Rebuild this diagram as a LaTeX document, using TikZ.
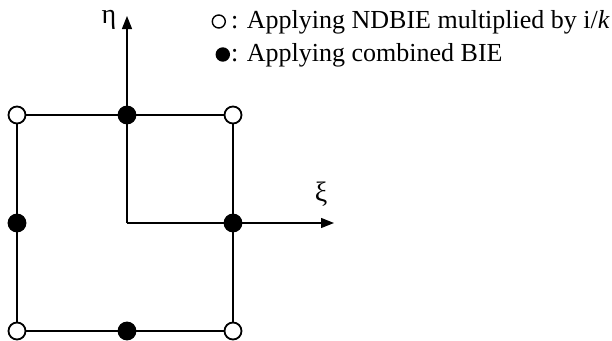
\documentclass[tikz,border=0pt]{standalone}
\usepackage{fontspec}
\setmainfont{Liberation Serif}
\usetikzlibrary{arrows.meta}
\begin{document}
\begin{tikzpicture}[x=1pt,y=-1pt,
  edge/.style={line width=1.9pt},
  axis/.style={line width=1.3pt,-{Triangle[length=13pt,width=10pt]}},
  opendot/.style={circle,draw,line width=1.8pt,fill=white,minimum size=17pt,inner sep=0pt},
  filldot/.style={circle,draw,line width=1.8pt,fill=black,minimum size=17pt,inner sep=0pt},
  legopen/.style={circle,draw,line width=1.4pt,fill=white,minimum size=13pt,inner sep=0pt},
  legfill/.style={circle,draw,line width=1.4pt,fill=black,minimum size=13pt,inner sep=0pt},
  lbl/.style={font=\fontsize{26}{31}\selectfont,inner sep=0pt},
  greek/.style={font=\fontsize{28}{33}\selectfont,inner sep=0pt}]
\useasboundingbox (0,0) rectangle (612,340);
% coordinates
\coordinate (o) at (127,223);
\coordinate (xe) at (334,223);
\coordinate (ye) at (127,16);
% axes
\draw[axis] (o) -- (xe);
\draw[axis] (o) -- (ye);
% square
\coordinate (tl) at (17,115);
\coordinate (tr) at (233,115);
\coordinate (bl) at (17,331);
\coordinate (br) at (233,331);
\draw[edge] (tl) -- (tr) -- (br) -- (bl) -- cycle;
% dots
\node[opendot] (n1) at (tl) {};
\node[opendot] (n2) at (tr) {};
\node[opendot] (n3) at (bl) {};
\node[opendot] (n4) at (br) {};
\node[filldot] (m1) at (127,115) {};
\node[filldot] (m2) at (127,331) {};
\node[filldot] (m3) at (17,223) {};
\node[filldot] (m4) at (233,223) {};
% axis labels
\node[greek,anchor=base] (eta) at (109,23) {η};
\node[greek,anchor=base] (xi) at (321,201) {ξ};
% legend
\node[lbl,anchor=base east] (lt1) at (610,28) {: Applying NDBIE multiplied by i/\textit{k}};
\path (lt1.base west) ++(0,33) node[lbl,anchor=base west] (lt2) {: Applying combined BIE};
\node[legopen] (lo) at ([xshift=-12pt,yshift=6.5pt]lt1.base west) {};
\node[legfill] (lf) at ([xshift=-8pt,yshift=6.5pt]lt2.base west) {};
\end{tikzpicture}
\end{document}
